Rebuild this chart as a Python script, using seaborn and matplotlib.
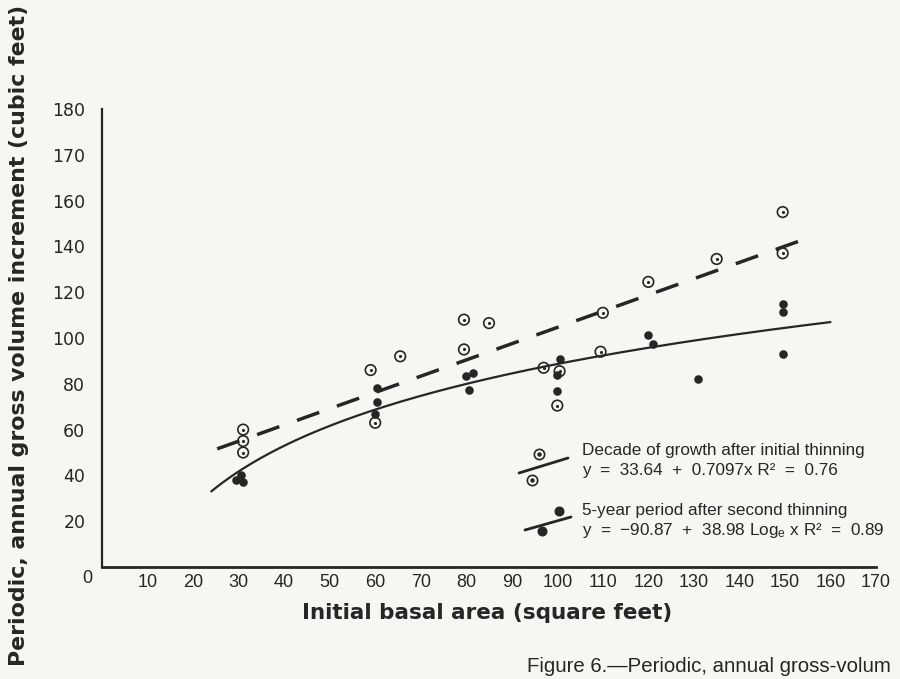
import numpy as np
import pandas as pd
import matplotlib
matplotlib.use("Agg")
import matplotlib.pyplot as plt
import seaborn as sns

# Observations: decade of growth after the initial thinning (open circles)
decade_x = [31, 31, 31, 59, 60, 65.5, 79.5, 79.5, 85, 97, 100.5, 100, 109.5, 110, 120, 135, 149.5, 149.5]
decade_y = [60, 55, 50, 86, 63, 92, 108, 95, 106.5, 87, 85.5, 70.5, 94, 111, 124.5, 134.5, 155, 137]

# Observations: 5-year period after the second thinning (solid dots)
second_x = [29.5, 30.5, 31, 60.5, 60.5, 60, 80, 81.5, 80.5, 100.5, 100, 100, 120, 121, 131, 149.5, 149.5, 149.5]
second_y = [38, 40, 37, 78, 72, 67, 83.5, 84.5, 77.5, 91, 84, 77, 101.5, 97.5, 82, 115, 111.5, 93]

# Fitted regressions
lin_a, lin_b = 33.64, 0.7097
log_a, log_b = -90.87, 38.98
lin_range = (25.3, 153.4)
log_range = (24.0, 160.0)

x_ticks = list(range(10, 180, 10))
x_tick_labels = [str(v) for v in x_ticks]
y_ticks = [20, 40, 60, 80, 100, 120, 140, 160, 180, 200]
y_tick_labels = ["20", "40", "60", "80", "100", "120", "140", "160", "170", "180"]

INK = "#262626"
PAPER = "#f7f6f2"

sns.set_theme(style="white")
plt.rcParams["font.family"] = ["Liberation Sans", "DejaVu Sans"]
plt.rcParams["mathtext.fontset"] = "custom"
plt.rcParams["mathtext.rm"] = "Liberation Sans"
plt.rcParams["mathtext.it"] = "Liberation Sans"

fig = plt.figure(figsize=(9, 6.79), dpi=100, facecolor=PAPER)
W, H = 900, 679
ax_left, ax_right, ax_bottom, ax_top = 102, 876, 567, 109
ax = fig.add_axes([ax_left / W, 1 - ax_bottom / H, (ax_right - ax_left) / W, (ax_bottom - ax_top) / H])
ax.set_facecolor(PAPER)

decade = pd.DataFrame({"x": decade_x, "y": decade_y})
second = pd.DataFrame({"x": second_x, "y": second_y})

lx = np.linspace(*lin_range, 100)
lin_df = pd.DataFrame({"x": lx, "y": lin_a + lin_b * lx})
gx = np.linspace(*log_range, 200)
log_df = pd.DataFrame({"x": gx, "y": log_a + log_b * np.log(gx)})

sns.lineplot(data=lin_df, x="x", y="y", ax=ax, color=INK, lw=2.5,
             estimator=None, sort=False)
ax.lines[-1].set_dashes([6.8, 5.4])
sns.lineplot(data=log_df, x="x", y="y", ax=ax, color=INK, lw=1.6, estimator=None, sort=False)

sns.scatterplot(data=decade, x="x", y="y", ax=ax, marker="o", s=58,
                facecolors="none", edgecolor=INK, linewidth=1.2, zorder=4)
sns.scatterplot(data=decade, x="x", y="y", ax=ax, marker="o", s=5,
                color=INK, linewidth=0, zorder=5)
sns.scatterplot(data=second, x="x", y="y", ax=ax, marker="o", s=38,
                color=INK, linewidth=0, zorder=5)

ax.set_xlim(0, 170)
ax.set_ylim(0, 200)
ax.set_xticks(x_ticks)
ax.set_xticklabels(x_tick_labels)
ax.set_yticks(y_ticks)
ax.set_yticklabels(y_tick_labels)
ax.set_xlabel("")
ax.set_ylabel("")

for side in ("top", "right"):
    ax.spines[side].set_visible(False)
ax.spines["left"].set_linewidth(1.6)
ax.spines["bottom"].set_linewidth(2.0)
for side in ("left", "bottom"):
    ax.spines[side].set_color(INK)

ax.tick_params(axis="y", direction="in", length=5, width=1.3, color=INK,
               labelsize=12.5, labelcolor=INK, pad=12)
ax.tick_params(axis="x", direction="in", length=4, width=1.2, color=INK,
               labelsize=13, labelcolor=INK, pad=5)
for lab in ax.get_yticklabels():
    lab.set_fontfamily("DejaVu Sans")
ax.text(-0.019, -0.026, "0", transform=ax.transAxes, ha="center", va="center",
        fontsize=13, color=INK)

fig.text(19 / W, 1 - 335 / H, "Periodic, annual gross volume increment (cubic feet)",
         rotation=90, ha="center", va="center", fontsize=15.8, fontweight="bold",
         color=INK, family="DejaVu Sans")
fig.text(487 / W, 1 - 613 / H, "Initial basal area (square feet)",
         ha="center", va="center", fontsize=15.5, fontweight="bold", color=INK,
         family="DejaVu Sans")
fig.text(527 / W, 1 - 666 / H, "Figure 6.\u2014Periodic, annual gross-volum",
         ha="left", va="center", fontsize=14.7, color=INK, family="Liberation Sans")

# Legend keys drawn in axes fraction coordinates
def axfrac(px, py):
    return (px - ax_left) / (ax_right - ax_left), (ax_bottom - py) / (ax_bottom - ax_top)

tr = ax.transAxes
(x0, y0), (x1, y1) = axfrac(519, 473), axfrac(568, 458)
ax.plot([x0, x1], [y0, y1], transform=tr, color=INK, lw=2.0)
for px, py in [(539, 454), (532, 480)]:
    fx, fy = axfrac(px, py)
    ax.plot([fx], [fy], transform=tr, marker="o", ms=7.4, mfc="none", mec=INK, mew=1.2)
    ax.plot([fx], [fy], transform=tr, marker="o", ms=2.2, color=INK)
(x0, y0), (x1, y1) = axfrac(525, 530), axfrac(571, 517)
ax.plot([x0, x1], [y0, y1], transform=tr, color=INK, lw=2.0)
for px, py in [(559, 511), (542, 531)]:
    fx, fy = axfrac(px, py)
    ax.plot([fx], [fy], transform=tr, marker="o", ms=6.2, color=INK)

legend_lines = [
    ((582, 451), "Decade of growth after initial thinning"),
    ((582, 471), "y  =  33.64  +  0.7097x R\u00b2  =  0.76"),
    ((582, 510), "5-year period after second thinning"),
    ((582, 530), "y  =  \u221290.87  +  38.98 Log$_{\\mathrm{e}}$ x R\u00b2  =  0.89"),
]
for (px, py), txt in legend_lines:
    fx, fy = axfrac(px, py)
    ax.text(fx, fy, txt, transform=tr, ha="left", va="center", fontsize=12.3,
            color=INK, clip_on=False)

fig.savefig("out.png", dpi=100, facecolor=PAPER)
